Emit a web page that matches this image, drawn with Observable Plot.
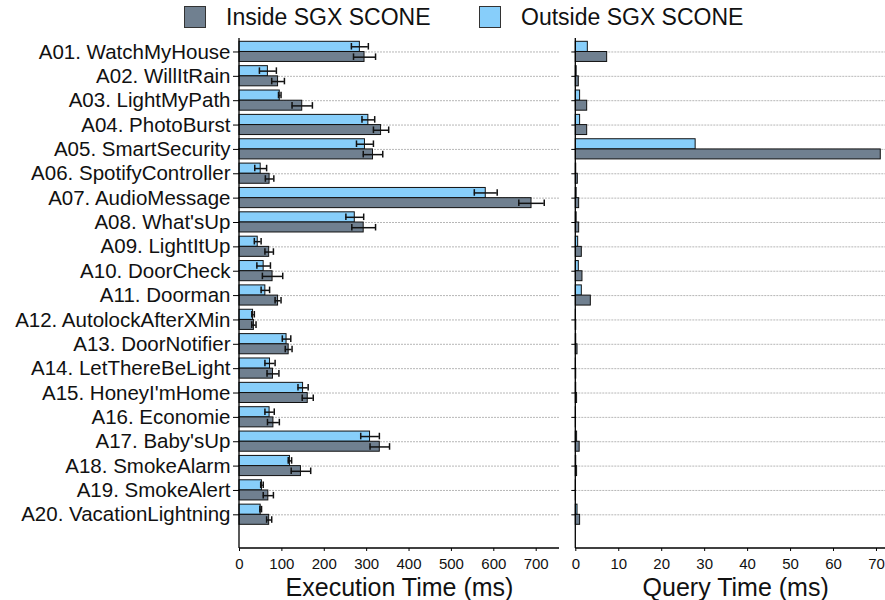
<!DOCTYPE html>
<html><head><meta charset="utf-8">
<script src="https://cdn.jsdelivr.net/npm/d3@7"></script>
<script src="https://cdn.jsdelivr.net/npm/@observablehq/plot@0.6"></script>
<style>
body{margin:0;background:#fff;font-family:"Liberation Sans",Arial,sans-serif;}
#wrap{position:relative;width:885px;height:600px;overflow:hidden;}
.sw{position:absolute;top:6px;width:22px;height:22px;border:1px solid #333;box-sizing:border-box;}
.lt{position:absolute;top:4px;font-size:23px;line-height:26px;color:#111;white-space:nowrap;}
#left{position:absolute;left:0;top:0;}
#right{position:absolute;left:565px;top:0;}
</style></head>
<body><div id="wrap"><div id="left"></div><div id="right"></div><div id="legend"></div></div>
<script>
const apps = ["A01. WatchMyHouse","A02. WillItRain","A03. LightMyPath","A04. PhotoBurst","A05. SmartSecurity","A06. SpotifyController","A07. AudioMessage","A08. What'sUp","A09. LightItUp","A10. DoorCheck","A11. Doorman","A12. AutolockAfterXMin","A13. DoorNotifier","A14. LetThereBeLight","A15. HoneyI'mHome","A16. Economie","A17. Baby'sUp","A18. SmokeAlarm","A19. SmokeAlert","A20. VacationLightning"];
const seriesNames = ["Inside SGX SCONE", "Outside SGX SCONE"];
const seriesColors = ["#708090", "#87CEFA"];
const execInside = [295, 91, 148, 334, 315, 71, 689, 293, 70, 78, 91, 34, 116, 79, 161, 80, 331, 145, 68, 70];
const execInsideErr = [26, 15, 24, 18, 23, 10, 30, 28, 10, 24, 7, 5, 8, 14, 13, 14, 23, 23, 12, 6];
const execOutside = [284, 67, 95, 304, 296, 50, 581, 272, 43, 57, 61, 32, 111, 72, 150, 71, 308, 119, 53, 50];
const execOutsideErr = [20, 20, 3, 15, 20, 14, 27, 21, 8, 16, 10, 3, 10, 12, 12, 11, 22, 4, 3, 2];
const queryInside = [7.3, 0.7, 2.65, 2.65, 71, 0.47, 0.78, 0.78, 1.4, 1.55, 3.5, 0.1, 0.4, 0.1, 0.3, 0.05, 0.9, 0.3, 0.05, 1.0];
const queryOutside = [2.8, 0.2, 1.0, 1.0, 27.9, 0.1, 0.2, 0.2, 0.55, 0.7, 1.4, 0.05, 0.1, 0.05, 0.1, 0.05, 0.3, 0.1, 0.05, 0.4];
const execTicks = [0, 100, 200, 300, 400, 500, 600, 700];
const queryTicks = [0, 10, 20, 30, 40, 50, 60, 70];

const inside = apps.map((a, i) => ({app: a, exec: execInside[i], err: execInsideErr[i], query: queryInside[i]}));
const outside = apps.map((a, i) => ({app: a, exec: execOutside[i], err: execOutsideErr[i], query: queryOutside[i]}));

const H = 600, MT = 38, MB = 52;
const yScale = {type: "band", domain: apps, padding: 0, round: false, insetTop: 1.3, insetBottom: 21.5, label: null};
const font = "Liberation Sans, Arial, sans-serif";

function spines() {
  return (index, scales, values, dim) => {
    const g = d3.create("svg:g");
    const x0 = dim.marginLeft, x1 = dim.width - dim.marginRight;
    const y0 = dim.marginTop, y1 = dim.height - dim.marginBottom;
    g.append("line").attr("x1", x0).attr("x2", x0).attr("y1", y0).attr("y2", y1).attr("stroke", "black").attr("stroke-width", 1.3);
    g.append("line").attr("x1", x0).attr("x2", x1).attr("y1", y1).attr("y2", y1).attr("stroke", "black").attr("stroke-width", 1.3);
    return g.node();
  };
}

function panel(opts) {
  const {field, domain, ticks, label, labelDx, width, marginLeft, marginRight, showLabels, errors} = opts;
  const marks = [
    Plot.gridY({stroke: "#999", strokeOpacity: 0.7, strokeDasharray: "2,1", strokeWidth: 1}),
    Plot.barX(outside, {y: "app", x: field, fill: seriesColors[1], stroke: "#111", strokeWidth: 1, insetTop: 2, insetBottom: 12.2}),
    Plot.barX(inside, {y: "app", x: field, fill: seriesColors[0], stroke: "#111", strokeWidth: 1, insetTop: 12.2, insetBottom: 2.2})
  ];
  if (errors) {
    for (const [data, dy, it, ib] of [[outside, -5.2, 3.7, 14.1], [inside, 5.2, 14.1, 3.7]]) {
      marks.push(Plot.ruleY(data, {y: "app", x1: d => d.exec - d.err, x2: d => d.exec + d.err, dy, stroke: "#111", strokeWidth: 1.5}));
      marks.push(Plot.tickX(data, {y: "app", x: d => d.exec - d.err, insetTop: it, insetBottom: ib, stroke: "#111", strokeWidth: 1.5}));
      marks.push(Plot.tickX(data, {y: "app", x: d => d.exec + d.err, insetTop: it, insetBottom: ib, stroke: "#111", strokeWidth: 1.5}));
    }
  }
  marks.push(spines());
  marks.push(Plot.axisY(showLabels
    ? {tickSize: 6, tickPadding: 3, fontSize: 20.5, fill: "#111"}
    : {tickSize: 4, tickFormat: () => ""}));
  marks.push(Plot.axisX({ticks, tickSize: 3, tickPadding: 7, fontSize: 15, label: null, fill: "#111"}));
  marks.push(Plot.text([label], {frameAnchor: "bottom", lineAnchor: "top", dy: 29.5, dx: labelDx, fontSize: 25, fill: "#111"}));
  return Plot.plot({
    width, height: H, marginLeft, marginRight, marginTop: MT, marginBottom: MB,
    style: {fontFamily: font, background: "transparent", overflow: "visible"},
    x: {domain, label: null},
    y: yScale,
    marks
  });
}

document.getElementById("left").append(panel({field: "exec", domain: [0, 755], ticks: execTicks, label: "Execution Time (ms)", labelDx: 0, width: 565, marginLeft: 239, marginRight: 6, showLabels: true, errors: true}));
document.getElementById("right").append(panel({field: "query", domain: [0, 72.1], ticks: queryTicks, label: "Query Time (ms)", labelDx: 5, width: 320, marginLeft: 10.3, marginRight: 0, showLabels: false, errors: false}));

const legend = document.getElementById("legend");
const legendPos = [[184, 226], [479, 521]];
seriesNames.forEach((name, i) => {
  const sw = document.createElement("div");
  sw.className = "sw"; sw.style.left = legendPos[i][0] + "px"; sw.style.background = seriesColors[i];
  const t = document.createElement("div");
  t.className = "lt"; t.style.left = legendPos[i][1] + "px"; t.textContent = name;
  legend.append(sw, t);
});
</script></body></html>
